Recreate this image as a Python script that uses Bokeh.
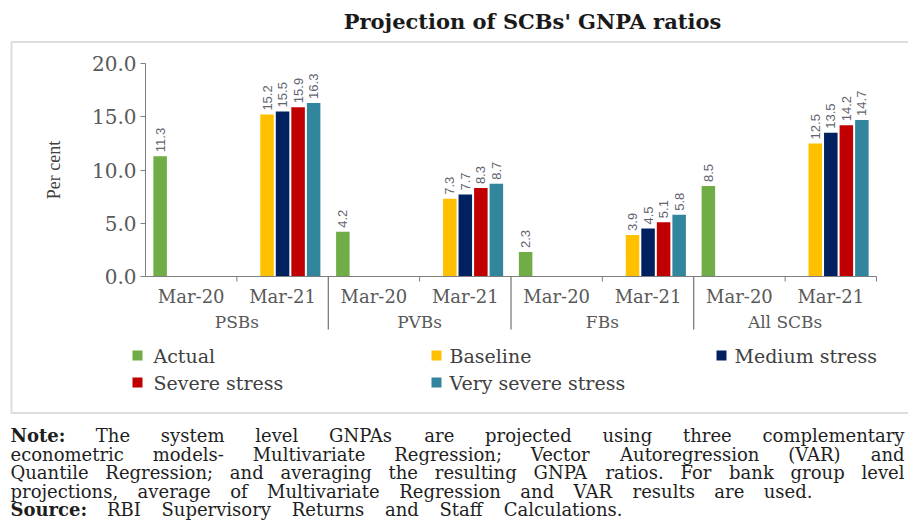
import math
from bokeh.plotting import figure
from bokeh.models import (Range1d, ColumnDataSource, FixedTicker, PrintfTickFormatter,
                          Label, BoxAnnotation, LinearAxis)
from bokeh.core.properties import value
from bokeh.embed import file_html
from bokeh.resources import INLINE

# ---------------- data ----------------
groups = ["PSBs", "PVBs", "FBs", "All SCBs"]
periods = ["Mar-20", "Mar-21"]
series_names = ["Actual", "Baseline", "Medium stress", "Severe stress", "Very severe stress"]
series_colors = ["#70AD47", "#FFC000", "#002060", "#C00000", "#31859C"]
actual_mar20 = [11.3, 4.2, 2.3, 8.5]
baseline_mar21 = [15.2, 7.3, 3.9, 12.5]
medium_mar21 = [15.5, 7.7, 4.5, 13.5]
severe_mar21 = [15.9, 8.3, 5.1, 14.2]
very_severe_mar21 = [16.3, 8.7, 5.8, 14.7]
y_ticks = [0, 5, 10, 15, 20]

title_text = "Projection of SCBs' GNPA ratios"
note_lines = [
    "Note: The system level GNPAs are projected using three complementary",
    "econometric models- Multivariate Regression; Vector Autoregression (VAR) and",
    "Quantile Regression; and averaging the resulting GNPA ratios. For bank group level",
    "projections, average of Multivariate Regression and VAR results are used.",
    "Source: RBI Supervisory Returns and Staff Calculations.",
]

# ---------------- page geometry ----------------
W, H = 908, 521
AX_X, AX_RIGHT = 145.0, 876.0        # page x of category 0 and category 8
AX_Y, PX_Y = 276.0, 10.65            # page y of value 0, px per unit
PX_X = (AX_RIGHT - AX_X) / 8.0


def dx(page_x):
    return (page_x - AX_X) / PX_X


def dy(page_y):
    return (AX_Y - page_y) / PX_Y


SERIF = "DejaVu Serif"
GRAY = "#595959"
AXIS_GRAY = "#7f7f7f"
TEXT = "#1e1e1e"

p = figure(width=W, height=H, x_range=Range1d(dx(0), dx(W)), y_range=Range1d(dy(H), dy(0)),
           output_backend="svg", toolbar_location=None,
           min_border_left=0, min_border_right=0, min_border_top=0, min_border_bottom=0)
p.outline_line_color = None
p.xgrid.grid_line_color = None
p.ygrid.grid_line_color = None
p.background_fill_color = "white"
p.border_fill_color = "white"

# ---------------- bars and value labels ----------------
slot = 0.17
bar_w = 0.148
series_values = [actual_mar20, baseline_mar21, medium_mar21, severe_mar21, very_severe_mar21]
series_period = [0, 1, 1, 1, 1]
series_slot = [-2, -1, 0, 1, 2]
for name, color, vals, per, s in zip(series_names, series_colors, series_values,
                                    series_period, series_slot):
    xs = [2 * gi + per + 0.5 + s * slot for gi in range(len(groups))]
    src = ColumnDataSource(dict(x=xs, top=vals, label=[f"{v:.1f}" for v in vals]))
    p.vbar(x="x", top="top", width=bar_w, source=src, fill_color=color, line_color=None)
    p.text(x="x", y="top", text="label", source=src,
           angle=math.pi / 2, text_align="left", text_baseline="middle", y_offset=-4,
           text_font=value("Liberation Sans"), text_font_size="13px", text_color="#5f6470")

# ---------------- axes ----------------
n_cat = len(groups) * len(periods)
xa = p.xaxis[0]
xa.fixed_location = 0
xa.bounds = (0, n_cat)
xa.ticker = FixedTicker(ticks=[i + 0.5 for i in range(n_cat)])
xa.major_label_overrides = {i + 0.5: periods[i % 2] for i in range(n_cat)}
xa.axis_line_color = AXIS_GRAY
xa.major_tick_line_color = None
xa.minor_tick_line_color = None
xa.major_label_standoff = 3
xa.major_label_text_font = SERIF
xa.major_label_text_font_size = "18px"
xa.major_label_text_color = GRAY

ga = LinearAxis(fixed_location=0, ticker=FixedTicker(ticks=[2 * i + 1 for i in range(len(groups))]),
                major_label_overrides={2 * i + 1: g for i, g in enumerate(groups)},
                axis_line_color=None, major_tick_line_color=None, minor_tick_line_color=None,
                major_label_standoff=29, major_label_text_font=SERIF,
                major_label_text_font_size="17px", major_label_text_color=GRAY)
p.add_layout(ga, "below")

# ticks between periods / at the end, and group separators
tick_src = ColumnDataSource(dict(x=[2 * i + 1 for i in range(len(groups))] + [n_cat]))
p.segment(x0="x", y0=0, x1="x", y1=dy(281), source=tick_src, line_color=AXIS_GRAY, line_width=1)
sep_src = ColumnDataSource(dict(x=[2 * i for i in range(1, len(groups))]))
p.segment(x0="x", y0=0, x1="x", y1=dy(329), source=sep_src, line_color="#555555", line_width=1)

ya = p.yaxis[0]
ya.fixed_location = 0
ya.ticker = FixedTicker(ticks=y_ticks)
ya.formatter = PrintfTickFormatter(format="%.1f")
ya.bounds = (0, 20)
ya.axis_line_color = AXIS_GRAY
ya.major_tick_line_color = AXIS_GRAY
ya.major_tick_out = 5
ya.major_tick_in = 0
ya.minor_tick_line_color = None
ya.major_label_standoff = 4
ya.major_label_text_font = SERIF
ya.major_label_text_font_size = "20px"
ya.major_label_text_color = GRAY
ya.axis_label = "Per cent"
ya.axis_label_text_font = "Liberation Serif"
ya.axis_label_text_font_size = "18px"
ya.axis_label_text_font_style = "normal"
ya.axis_label_text_color = "#404040"
ya.axis_label_standoff = 25

# ---------------- legend (drawn as squares + labels, three columns) ----------------
legend_col_x = [137, 436, 721]       # page x of square centres
legend_row_y = [355, 382]            # page y of row centres
legend_order = [0, 1, 2, 3, 4]       # row-major placement
lg_x, lg_y, lg_c = [], [], []
for k, si in enumerate(legend_order):
    col, row = k % 3, k // 3
    lg_x.append(dx(legend_col_x[col]))
    lg_y.append(dy(legend_row_y[row]))
    lg_c.append(series_colors[si])
    p.add_layout(Label(x=dx(legend_col_x[col] + (16 if col == 0 else 13)), y=dy(legend_row_y[row]),
                       text=series_names[si], text_align="left", text_baseline="middle",
                       text_font=SERIF, text_font_size="19px", text_color="#404040"))
p.rect(x=lg_x, y=lg_y, width=10, height=10, width_units="screen", height_units="screen",
       fill_color=lg_c, line_color=None)

# ---------------- title, frame box ----------------
p.add_layout(Label(x=dx(532), y=dy(21), text=title_text, text_align="center",
                   text_baseline="middle", text_font=SERIF, text_font_style="bold",
                   text_font_size="21px", text_color="#1a1a1a"))
p.add_layout(BoxAnnotation(left=dx(11), right=dx(930), top=dy(41.5), bottom=dy(412.5),
                           fill_alpha=0, line_color="#909090", line_width=2))

# ---------------- note (justified like the source) ----------------
EM = {" ": .318, "a": .596, "b": .640, "c": .559, "d": .640, "e": .592, "f": .370, "g": .640,
      "h": .644, "i": .320, "j": .310, "k": .606, "l": .320, "m": .948, "n": .644, "o": .602,
      "p": .640, "q": .640, "r": .478, "s": .513, "t": .402, "u": .644, "v": .569, "w": .856,
      "x": .564, "y": .569, "z": .527, "A": .722, "B": .735, "C": .765, "D": .802, "E": .730,
      "F": .694, "G": .799, "H": .872, "I": .395, "J": .401, "K": .747, "L": .664, "M": 1.024,
      "N": .875, "O": .820, "P": .673, "Q": .820, "R": .753, "S": .685, "T": .667, "U": .843,
      "V": .722, "W": 1.028, "X": .712, "Y": .660, "Z": .695, ".": .318, ",": .318, ":": .337,
      ";": .337, "-": .338, "(": .390, ")": .390, "'": .276}
NOTE_PX = 18


def text_w(s, bold=False):
    return sum(EM.get(ch, 0.6) for ch in s) * NOTE_PX * (1.08 if bold else 1.0)


def note_line(line, x0, x1, cy, bold_first):
    words = line.split(" ")
    bolds = [bold_first and i == 0 for i in range(len(words))]
    widths = [text_w(w, b) for w, b in zip(words, bolds)]
    gap = (x1 - x0 - sum(widths)) / (len(words) - 1)
    x = x0
    for i, (w, b, wd) in enumerate(zip(words, bolds, widths)):
        last = i == len(words) - 1
        p.add_layout(Label(x=dx(x1 if last else x), y=dy(cy), text=w,
                           text_align="right" if last else "left", text_baseline="middle",
                           text_font=SERIF, text_font_style="bold" if b else "normal",
                           text_font_size=f"{NOTE_PX}px", text_color=TEXT))
        x += wd + gap


note_right = [904, 904, 904, 812, 622]
note_cy = [435, 453.5, 472, 490.5, 509]
for i, ln in enumerate(note_lines):
    note_line(ln, 10, note_right[i], note_cy[i], bold_first=(i in (0, 4)))

open("out.html", "w").write(file_html(p, INLINE))
